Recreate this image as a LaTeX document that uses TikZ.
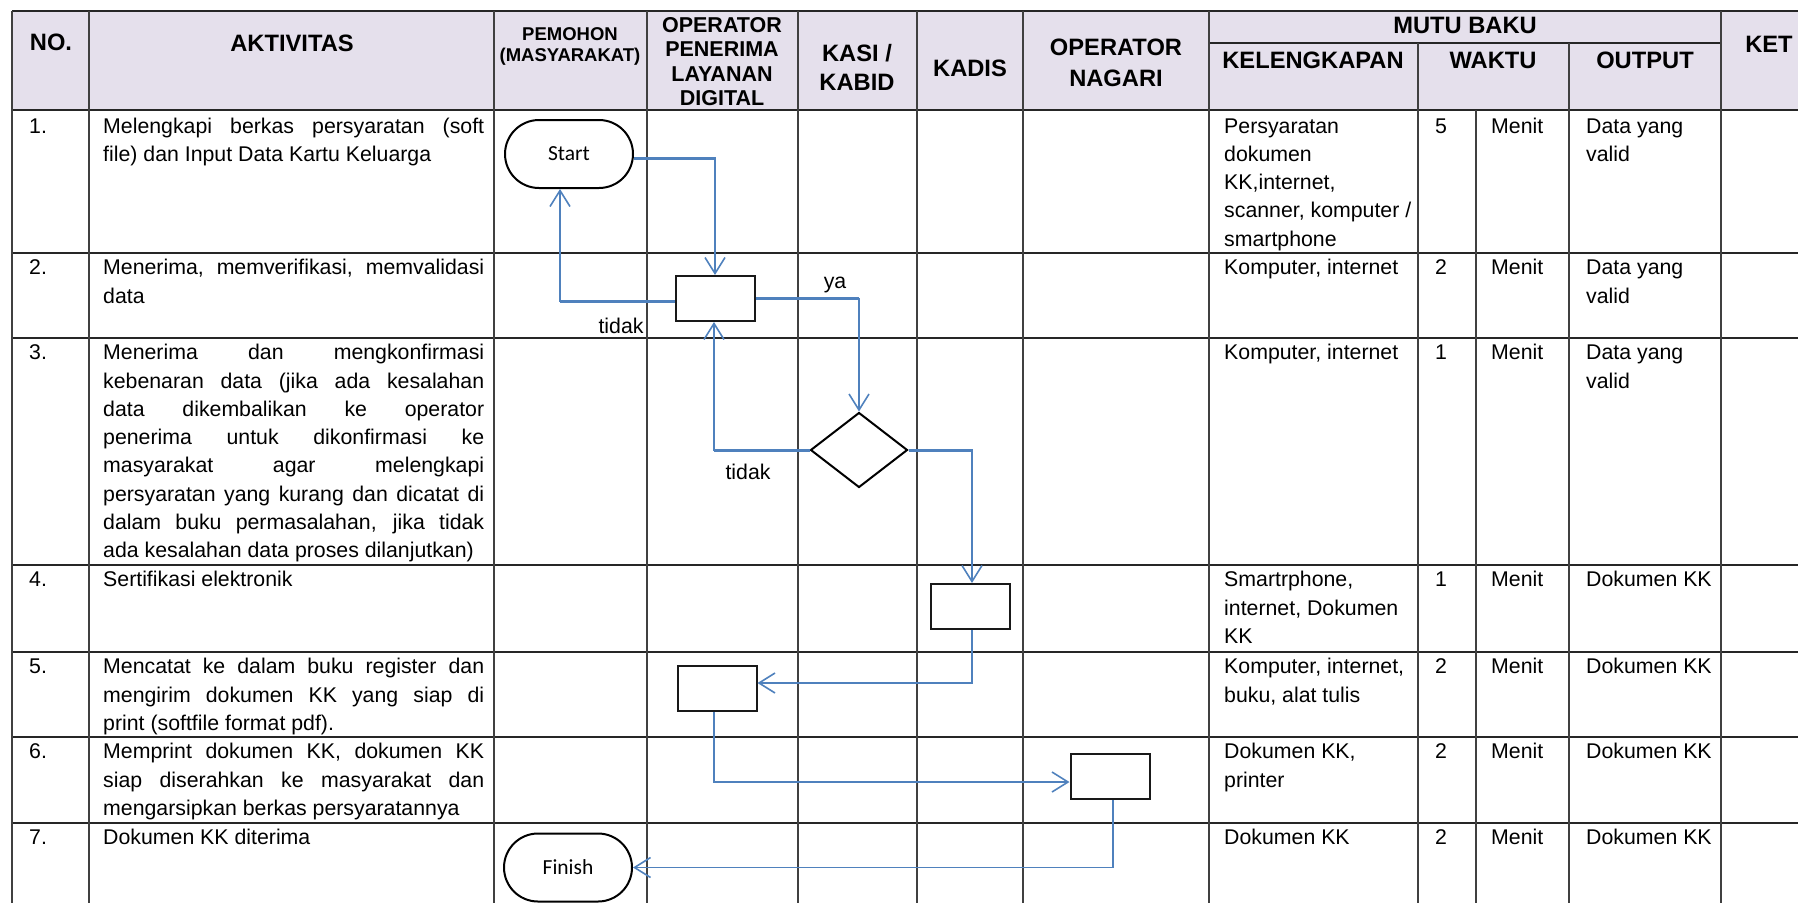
\documentclass[tikz,border=0pt]{standalone}
\usepackage{fontspec}
\setmainfont{Liberation Sans}
\newfontfamily\calibrifont{Carlito}
\usetikzlibrary{shapes.geometric,arrows.meta}
\definecolor{hdr}{RGB}{229,224,236}
\definecolor{flow}{RGB}{79,129,189}
\newcommand\Ln[1]{\hbox{\strut#1}}
\newcommand\Jn[1]{\hbox to\hsize{\strut\spaceskip=.278em plus 1fil\relax#1}}
\newcommand\Cell[2]{\vbox{\hsize=#1\relax#2}}
\begin{document}
\begin{tikzpicture}[x=1pt,y=-1pt,
  hline/.style={line width=1.8pt,black!85},
  vline/.style={line width=1.5pt,black!75},
  hd/.style={font=\fontsize{23.7}{27}\selectfont\bfseries,align=center,inner sep=0pt},
  cell/.style={font=\fontsize{21.3}{28.3}\selectfont,anchor=north west,inner sep=0pt},
  term/.style={draw=black,line width=2pt,rounded corners=34pt,minimum width=128pt,minimum height=68pt,inner sep=0pt,font=\calibrifont\fontsize{21.5}{24}\selectfont},
  proc/.style={draw=black!90,line width=2pt,minimum width=79pt,minimum height=45pt,inner sep=0pt},
  dec/.style={draw=black,line width=2pt,diamond,minimum width=97pt,minimum height=75pt,inner sep=0pt},
  conn/.style={draw=flow,line width=1.6pt,-{Straight Barb[length=16pt,width=20pt]}},
  thickseg/.style={draw=flow,line width=3pt},
  lbl/.style={font=\fontsize{21.3}{24}\selectfont,inner sep=0pt}
]
\useasboundingbox (0,0) rectangle (1798,903);
% header background
\fill[hdr] (12,10.7) rectangle (1798,110);
% table grid
\draw[hline] (12,10.7) -- (1798,10.7);
\foreach \yy in {110,253,338,565,652,737,823} \draw[hline] (12,\yy) -- (1798,\yy);
\draw[hline] (1209,43) -- (1721,43);
\foreach \xx in {12,89,494,647,798,917,1023,1209,1721} \draw[vline] (\xx,10.7) -- (\xx,903);
\draw[vline] (1418,43) -- (1418,903);
\draw[vline] (1569,43) -- (1569,903);
\draw[vline] (1476,110) -- (1476,903);

% header texts
\node[hd] (hno) at (51,42) {NO.};
\node[hd] (hakt) at (292,43) {AKTIVITAS};
\node[hd,font=\fontsize{18.5}{21}\selectfont\bfseries] (hpem) at (570,46) {PEMOHON\\(MASYARAKAT)};
\node[hd,font=\fontsize{21.5}{24.4}\selectfont\bfseries] (hop) at (722,61.5) {OPERATOR\\PENERIMA\\LAYANAN\\DIGITAL};
\node[hd,font=\fontsize{23.7}{28.5}\selectfont\bfseries] (hkasi) at (857,67.5) {KASI /\\KABID};
\node[hd] (hkadis) at (970,68) {KADIS};
\node[hd,font=\fontsize{23.7}{31}\selectfont\bfseries] (hopn) at (1116,63) {OPERATOR\\NAGARI};
\node[hd] (hmutu) at (1465,25) {MUTU BAKU};
\node[hd] (hkel) at (1313,60) {KELENGKAPAN};
\node[hd] (hwak) at (1493,60) {WAKTU};
\node[hd] (hout) at (1645,60) {OUTPUT};
\node[hd] (hket) at (1769,44) {KET};

% row numbers
\node[cell] (n1) at (29,113) {\Cell{50pt}{\Ln{1.}}};
\node[cell] (n2) at (29,254.7) {\Cell{50pt}{\Ln{2.}}};
\node[cell] (n3) at (29,339.7) {\Cell{50pt}{\Ln{3.}}};
\node[cell] (n4) at (29,566.7) {\Cell{50pt}{\Ln{4.}}};
\node[cell] (n5) at (29,653.7) {\Cell{50pt}{\Ln{5.}}};
\node[cell] (n6) at (29,738.7) {\Cell{50pt}{\Ln{6.}}};
\node[cell] (n7) at (29,824.7) {\Cell{50pt}{\Ln{7.}}};

% activities
\node[cell] (a1) at (103,113) {\Cell{381pt}{\Jn{Melengkapi berkas persyaratan (soft}\Ln{file) dan Input Data Kartu Keluarga}}};
\node[cell] (a2) at (103,254.7) {\Cell{381pt}{\Jn{Menerima, memverifikasi, memvalidasi}\Ln{data}}};
\node[cell] (a3) at (103,339.7) {\Cell{381pt}{\Jn{Menerima dan mengkonfirmasi}\Jn{kebenaran data (jika ada kesalahan}\Jn{data dikembalikan ke operator}\Jn{penerima untuk dikonfirmasi ke}\Jn{masyarakat agar melengkapi}\Jn{persyaratan yang kurang dan dicatat di}\Jn{dalam buku permasalahan, jika tidak}\Ln{ada kesalahan data proses dilanjutkan)}}};
\node[cell] (a4) at (103,566.7) {\Cell{381pt}{\Ln{Sertifikasi elektronik}}};
\node[cell] (a5) at (103,653.7) {\Cell{381pt}{\Jn{Mencatat ke dalam buku register dan}\Jn{mengirim dokumen KK yang siap di}\Ln{print (softfile format pdf).}}};
\node[cell] (a6) at (103,738.7) {\Cell{381pt}{\Jn{Memprint dokumen KK, dokumen KK}\Jn{siap diserahkan ke masyarakat dan}\Ln{mengarsipkan berkas persyaratannya}}};
\node[cell] (a7) at (103,824.7) {\Cell{381pt}{\Ln{Dokumen KK diterima}}};

% kelengkapan
\node[cell] (k1) at (1224,113) {\Cell{190pt}{\Ln{Persyaratan}\Ln{dokumen}\Ln{KK,internet,}\Ln{scanner, komputer /}\Ln{smartphone}}};
\node[cell] (k2) at (1224,254.7) {\Cell{190pt}{\Ln{Komputer, internet}}};
\node[cell] (k3) at (1224,339.7) {\Cell{190pt}{\Ln{Komputer, internet}}};
\node[cell] (k4) at (1224,566.7) {\Cell{190pt}{\Ln{Smartrphone,}\Ln{internet, Dokumen}\Ln{KK}}};
\node[cell] (k5) at (1224,653.7) {\Cell{190pt}{\Ln{Komputer, internet,}\Ln{buku, alat tulis}}};
\node[cell] (k6) at (1224,738.7) {\Cell{190pt}{\Ln{Dokumen KK,}\Ln{printer}}};
\node[cell] (k7) at (1224,824.7) {\Cell{190pt}{\Ln{Dokumen KK}}};

% waktu numbers
\node[cell] (w1) at (1435,113) {\Cell{30pt}{\Ln{5}}};
\node[cell] (w2) at (1435,254.7) {\Cell{30pt}{\Ln{2}}};
\node[cell] (w3) at (1435,339.7) {\Cell{30pt}{\Ln{1}}};
\node[cell] (w4) at (1435,566.7) {\Cell{30pt}{\Ln{1}}};
\node[cell] (w5) at (1435,653.7) {\Cell{30pt}{\Ln{2}}};
\node[cell] (w6) at (1435,738.7) {\Cell{30pt}{\Ln{2}}};
\node[cell] (w7) at (1435,824.7) {\Cell{30pt}{\Ln{2}}};

% menit
\node[cell] (m1) at (1491,113) {\Cell{70pt}{\Ln{Menit}}};
\node[cell] (m2) at (1491,254.7) {\Cell{70pt}{\Ln{Menit}}};
\node[cell] (m3) at (1491,339.7) {\Cell{70pt}{\Ln{Menit}}};
\node[cell] (m4) at (1491,566.7) {\Cell{70pt}{\Ln{Menit}}};
\node[cell] (m5) at (1491,653.7) {\Cell{70pt}{\Ln{Menit}}};
\node[cell] (m6) at (1491,738.7) {\Cell{70pt}{\Ln{Menit}}};
\node[cell] (m7) at (1491,824.7) {\Cell{70pt}{\Ln{Menit}}};

% output
\node[cell] (o1) at (1586,113) {\Cell{130pt}{\Ln{Data yang}\Ln{valid}}};
\node[cell] (o2) at (1586,254.7) {\Cell{130pt}{\Ln{Data yang}\Ln{valid}}};
\node[cell] (o3) at (1586,339.7) {\Cell{130pt}{\Ln{Data yang}\Ln{valid}}};
\node[cell] (o4) at (1586,566.7) {\Cell{130pt}{\Ln{Dokumen KK}}};
\node[cell] (o5) at (1586,653.7) {\Cell{130pt}{\Ln{Dokumen KK}}};
\node[cell] (o6) at (1586,738.7) {\Cell{130pt}{\Ln{Dokumen KK}}};
\node[cell] (o7) at (1586,824.7) {\Cell{130pt}{\Ln{Dokumen KK}}};

% flowchart shapes
\node[term] (start) at (569,154) {Start};
\node[proc] (b1) at (715,298.5) {};
\node[dec] (dia) at (859,450) {};
\node[proc] (b2) at (970,606.5) {};
\node[proc] (b3) at (717,688.5) {};
\node[proc] (b4) at (1110,776.5) {};
\node[term] (fin) at (568,867.5) {Finish};

% connectors
\draw[conn] ([yshift=-4pt]start.east) -| (b1.north);
\draw[conn] ([yshift=-2.5pt]b1.west) -| ([xshift=-9pt]start.south);
\draw[conn] (b1.east) -| (dia.north);
\draw[conn] (dia.west) -| ([xshift=-1pt]b1.south);
\draw[conn] (dia.east) -| ([xshift=2pt]b2.north);
\draw[conn] ([xshift=2pt]b2.south) |- ([yshift=5.5pt]b3.east);
\draw[conn] ([xshift=-3pt]b3.south) |- ([yshift=-5.5pt]b4.west);
\draw[conn] ([xshift=3pt]b4.south) |- (fin.east);
% heavier horizontal runs of the upper connectors
\draw[thickseg] ([yshift=-4pt]start.east) -- ([yshift=-4pt]start.east -| b1.north);
\draw[thickseg] ([yshift=-2.5pt]b1.west) -- ([yshift=-2.5pt,xshift=-9pt]b1.west -| start.south);
\draw[thickseg] (b1.east) -- (b1.east -| dia.north);
\draw[thickseg] (dia.west) -- ([xshift=-1pt]dia.west -| b1.south);
\draw[thickseg] (dia.east) -- ([xshift=2pt]dia.east -| b2.north);

% labels
\node[lbl] (ya) at (835,285) {ya};
\node[lbl] (t1) at (621,326) {tidak};
\node[lbl] (t2) at (748,472) {tidak};
\end{tikzpicture}
\end{document}
